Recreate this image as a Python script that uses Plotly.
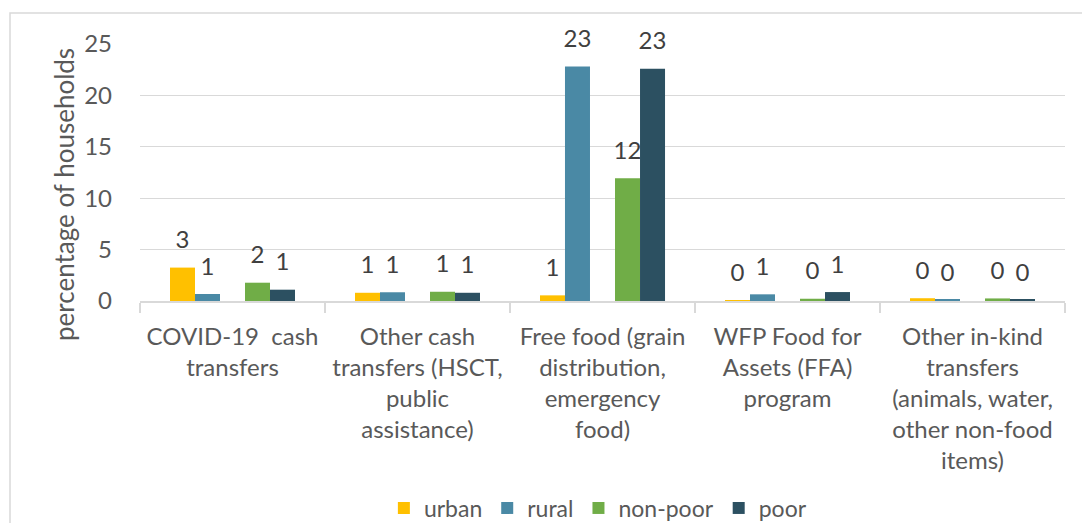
import plotly.graph_objects as go

categories = [
    "COVID-19  cash<br>transfers",
    "Other cash<br>transfers (HSCT,<br>public<br>assistance)",
    "Free food (grain<br>distribution,<br>emergency<br>food)",
    "WFP Food for<br>Assets (FFA)<br>program",
    "Other in-kind<br>transfers<br>(animals, water,<br>other non-food<br>items)",
]
urban = [3.25, 0.8, 0.55, 0.07, 0.27]
rural = [0.68, 0.85, 22.8, 0.65, 0.1]
non_poor = [1.78, 0.9, 11.95, 0.22, 0.25]
poor = [1.1, 0.8, 22.6, 0.87, 0.1]

series = [
    ("urban", urban, "#FFC000"),
    ("rural", rural, "#4A89A5"),
    (None, None, None),
    ("non-poor", non_poor, "#70AD47"),
    ("poor", poor, "#2C5061"),
]

FONT = "Lato"
GREY = "#595959"
LABEL_GAP = 1.1  # spacing between bar end and its data label (axis units)

fig = go.Figure()
for i, (name, vals, color) in enumerate(series):
    grp = f"g{i}"
    if name is None:
        fig.add_trace(go.Bar(x=categories, y=[0] * len(categories), showlegend=False,
                             offsetgroup=grp,
                             marker=dict(color="rgba(0,0,0,0)", line=dict(width=0)),
                             hoverinfo="skip"))
        continue
    fig.add_trace(go.Bar(
        x=categories, y=vals, name=name, offsetgroup=grp,
        marker=dict(color=color, line=dict(width=0)),
    ))
    # transparent spacer carrying the data labels
    fig.add_trace(go.Bar(
        x=categories, y=[LABEL_GAP] * len(vals), base=vals, offsetgroup=grp,
        showlegend=False, hoverinfo="skip",
        marker=dict(color="rgba(0,0,0,0)", line=dict(width=0)),
        text=[f"{round(v):d}" for v in vals],
        textposition="outside", cliponaxis=False, constraintext="none",
        textfont=dict(family=FONT, size=24, color="#404040"),
    ))

fig.update_layout(
    width=1082, height=523,
    barmode="group", bargap=0.324, bargroupgap=0,
    paper_bgcolor="white", plot_bgcolor="white",
    margin=dict(l=140, r=17, t=44, b=222, autoexpand=False),
    font=dict(family=FONT, color=GREY, size=23),
    legend=dict(orientation="h", x=0.495, xanchor="center", xref="paper",
                y=15 / 523, yanchor="middle", yref="container",
                font=dict(size=23, color=GREY), itemwidth=30, traceorder="normal",
                tracegroupgap=0),
    xaxis=dict(showline=True, linecolor="#d9d9d9", linewidth=1.5,
               ticks="outside", tickson="boundaries", ticklen=10, tickcolor="#d9d9d9",
               tickwidth=1.5, ticklabelstandoff=13,
               tickfont=dict(size=24, color=GREY, family=FONT)),
    yaxis=dict(range=[0, 25], dtick=5, showgrid=True, gridcolor="#d9d9d9", gridwidth=1.3,
               zeroline=False, ticks="", ticklabelstandoff=27,
               tickfont=dict(size=24, color=GREY, family=FONT)),
    annotations=[dict(text="percentage of households", textangle=-90,
                      xref="paper", yref="paper", x=(64 - 140) / 925, y=(301 - 195) / 257,
                      xanchor="center", yanchor="middle", showarrow=False,
                      font=dict(size=26, color=GREY, family=FONT))],
    shapes=[dict(type="rect", xref="paper", yref="paper",
                 x0=(10 - 140) / 925, x1=(1095 - 140) / 925,
                 y0=-(540 - 301) / 257, y1=1 + (44 - 13) / 257,
                 line=dict(color="#d9d9d9", width=1.5), fillcolor="rgba(0,0,0,0)", layer="below")],
)

fig.write_html("out.html", config={"displayModeBar": False},
               post_script="document.body.style.margin='0';document.body.style.overflow='hidden';")
